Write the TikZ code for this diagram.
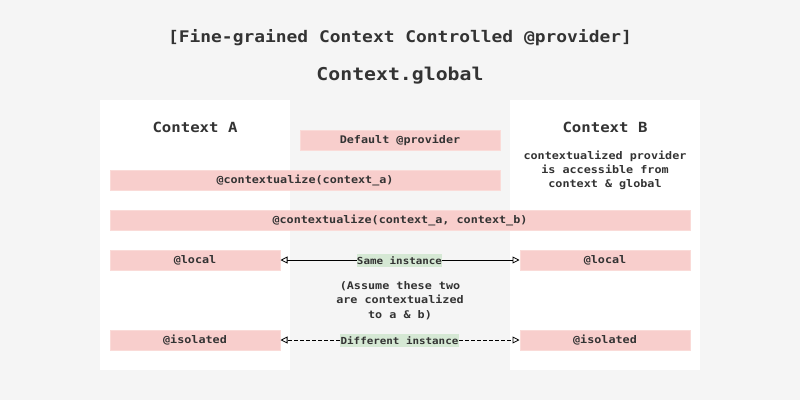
\documentclass[tikz,border=0pt]{standalone}
\usepackage{fontspec}
\setmonofont[FakeStretch=1.12]{DejaVu Sans Mono}
\usetikzlibrary{arrows.meta}
\definecolor{bg}{HTML}{F5F5F5}
\definecolor{pinkfill}{HTML}{F8CECC}
\definecolor{pinkline}{HTML}{FADBD8}
\definecolor{greenfill}{HTML}{D5E8D4}
\definecolor{txt}{HTML}{333333}
\tikzset{
  pinkbox/.style={draw=pinkline, line width=1pt, fill=pinkfill, inner sep=0pt, text=txt,
    font=\ttfamily\bfseries\fontsize{10.5}{13}\selectfont},
  greenlabel/.style={fill=greenfill, inner sep=0pt, text=txt, minimum height=13pt,
    font=\ttfamily\bfseries\fontsize{9.7}{12}\selectfont},
  plain/.style={text=txt, inner sep=0pt, align=center,
    font=\ttfamily\bfseries\fontsize{10.5}{14.3}\selectfont},
  conn/.style={line width=0.8pt, black, -{Triangle[open, length=7pt, width=7pt]}},
  dashconn/.style={conn, dash pattern=on 4pt off 2pt},
}
\begin{document}
\begin{tikzpicture}[x=1pt,y=-1pt]
\fill[bg] (0,0) rectangle (800,400);
\useasboundingbox (0,0) rectangle (800,400);
% panels
\fill[white] (100,100) rectangle (290,370);
\fill[white] (510,100) rectangle (700,370);
% titles
\node[text=txt, inner sep=0pt, font=\ttfamily\bfseries\fontsize{16}{19}\selectfont] (title) at (400,38) {[Fine-grained Context Controlled @provider]};
\node[text=txt, inner sep=0pt, font=\ttfamily\bfseries\fontsize{17.7}{21}\selectfont] (global) at (400,76) {Context.global};
\node[text=txt, inner sep=0pt, font=\ttfamily\bfseries\fontsize{14}{17}\selectfont] (ctxa) at (195,127) {Context A};
\node[text=txt, inner sep=0pt, font=\ttfamily\bfseries\fontsize{14}{17}\selectfont] (ctxb) at (605,127) {Context B};
\node[plain] (note) at (605,170.5) {contextualized provider\\is accessible from\\context \& global};
\node[plain] (assume) at (400,300.5) {(Assume these two\\are contextualized\\to a \& b)};
% boxes
\node[pinkbox, minimum width=200pt, minimum height=20pt] (default) at (400,140) {Default @provider};
\node[pinkbox, minimum width=390pt, minimum height=20pt] (ctxabox) at (305,180) {@contextualize(context\_a)};
\node[pinkbox, minimum width=580pt, minimum height=20pt] (ctxabbox) at (400,220) {@contextualize(context\_a, context\_b)};
\node[pinkbox, minimum width=170pt, minimum height=20pt] (locala) at (195,260) {@local};
\node[pinkbox, minimum width=170pt, minimum height=20pt] (localb) at (605,260) {@local};
\node[pinkbox, minimum width=170pt, minimum height=20pt] (isoa) at (195,340) {@isolated};
\node[pinkbox, minimum width=170pt, minimum height=20pt] (isob) at (605,340) {@isolated};
% labels
\node[greenlabel, minimum width=85pt] (same) at (399.5,260.5) {Same instance};
\node[greenlabel, minimum width=119pt] (diff) at (399.5,340.5) {Different instance};
% connectors
\draw[conn] (same.west |- locala.east) -- (locala.east);
\draw[conn] (same.east |- localb.west) -- (localb.west);
\draw[dashconn] (diff.west |- isoa.east) -- (isoa.east);
\draw[dashconn] (diff.east |- isob.west) -- (isob.west);
\end{tikzpicture}
\end{document}
